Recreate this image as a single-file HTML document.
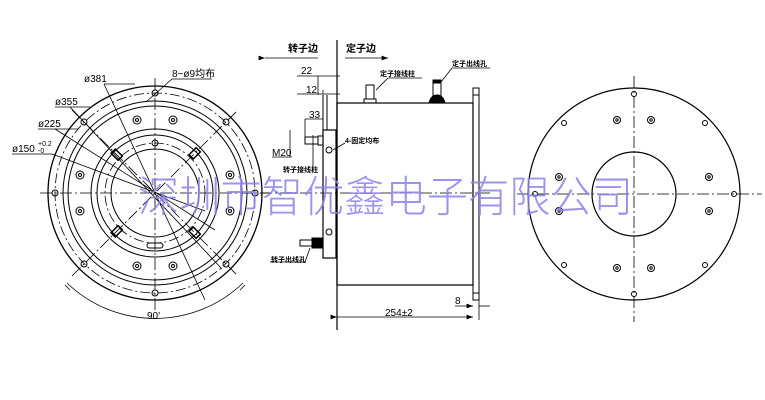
<!DOCTYPE html>
<html><head><meta charset="utf-8"><style>
html,body{margin:0;padding:0;background:#fff;width:765px;height:400px;overflow:hidden}
svg{display:block}
text{font-family:"Liberation Sans","Noto Sans CJK SC",sans-serif;fill:#000}
</style></head><body>
<svg width="765" height="400" viewBox="0 0 765 400" xmlns="http://www.w3.org/2000/svg">
<defs>
<marker id="a" markerWidth="8" markerHeight="6" refX="8" refY="3" orient="auto"><path d="M0,0L8,3L0,6z" fill="#000"/></marker>
</defs>
<g stroke="#000" fill="none" stroke-width="1">
<!-- LEFT VIEW -->
<circle cx="155" cy="193" r="107" stroke-width="1.3"/>
<circle cx="155" cy="193" r="100" stroke-dasharray="10,3,2,3" stroke-width="0.8"/>
<circle cx="155" cy="193" r="92"/>
<circle cx="155" cy="193" r="87"/>
<circle cx="155" cy="193" r="64"/>
<circle cx="155" cy="193" r="58"/>
<circle cx="155" cy="193" r="50" stroke-dasharray="10,3,2,3" stroke-width="0.8"/>
<circle cx="155" cy="193" r="44"/>
<line x1="40" y1="193" x2="272" y2="193" stroke-dasharray="12,3,2,3" stroke-width="0.8"/>
<line x1="155" y1="78" x2="155" y2="310" stroke-dasharray="12,3,2,3" stroke-width="0.8"/>
<line x1="72" y1="276" x2="238" y2="110" stroke-dasharray="12,3,2,3" stroke-width="0.8"/>
<line x1="72" y1="110" x2="238" y2="276" stroke-dasharray="12,3,2,3" stroke-width="0.8"/>
<!-- bolt holes r100 -->
<circle cx="155" cy="93" r="3"/><circle cx="155" cy="293" r="3"/>
<circle cx="55" cy="193" r="3"/><circle cx="255" cy="193" r="3"/>
<circle cx="84" cy="122" r="3"/><circle cx="226" cy="122" r="3"/>
<circle cx="84" cy="264" r="3"/><circle cx="226" cy="264" r="3"/>
<circle cx="155" cy="143" r="3"/>
<!-- counterbored r75 -->
<g>
<circle cx="137" cy="120" r="4"/><circle cx="137" cy="120" r="1.5"/>
<circle cx="173" cy="120" r="4"/><circle cx="173" cy="120" r="1.5"/>
<circle cx="137" cy="266" r="4"/><circle cx="137" cy="266" r="1.5"/>
<circle cx="173" cy="266" r="4"/><circle cx="173" cy="266" r="1.5"/>
<circle cx="80" cy="175" r="4"/><circle cx="80" cy="175" r="1.5"/>
<circle cx="80" cy="211" r="4"/><circle cx="80" cy="211" r="1.5"/>
<circle cx="230" cy="175" r="4"/><circle cx="230" cy="175" r="1.5"/>
<circle cx="230" cy="211" r="4"/><circle cx="230" cy="211" r="1.5"/>
</g>
<!-- slots at 45° -->
<g stroke-width="1.5">
<rect x="-4" y="-3" width="10" height="6" transform="translate(116,154) rotate(45)"/>
<rect x="-4" y="-3" width="10" height="6" transform="translate(194,154) rotate(-45)"/>
<rect x="-4" y="-3" width="10" height="6" transform="translate(116,232) rotate(-45)"/>
<rect x="-4" y="-3" width="10" height="6" transform="translate(194,232) rotate(45)"/>
</g>
<rect x="147" y="243" width="16" height="5" rx="2.5"/>
<!-- leaders -->
<line x1="104" y1="84" x2="135" y2="84" stroke-width="0.8"/>
<line x1="104" y1="84" x2="205" y2="300" stroke-width="0.8"/>
<line x1="55" y1="107" x2="90" y2="107" stroke-width="0.8"/>
<line x1="70" y1="107" x2="222" y2="269" stroke-width="0.8"/>
<line x1="38" y1="129" x2="78" y2="129" stroke-width="0.8"/>
<line x1="55" y1="129" x2="215" y2="230" stroke-width="0.8"/>
<line x1="12" y1="154" x2="52" y2="154" stroke-width="0.8"/>
<line x1="52" y1="154" x2="205" y2="211" stroke-width="0.8"/>
<line x1="146" y1="102" x2="172" y2="79" stroke-width="0.8"/>
<line x1="172" y1="79" x2="212" y2="79" stroke-width="0.8"/>
<path d="M67,283 A127,127 0 0 0 243,283" stroke-width="0.8"/>
<line x1="65" y1="285" x2="70" y2="290" stroke-width="0.8"/>
<line x1="245" y1="285" x2="240" y2="290" stroke-width="0.8"/>

<!-- SIDE VIEW -->
<line x1="337" y1="40" x2="337" y2="330" stroke-width="1.2"/>
<rect x="337" y="103" width="136" height="182" stroke-width="1.2"/>
<rect x="473" y="88" width="6" height="212"/>
<line x1="473" y1="95" x2="479" y2="95"/><line x1="473" y1="293" x2="479" y2="293"/>
<rect x="323" y="130" width="13" height="128" stroke-width="1.2"/>
<line x1="323" y1="95" x2="323" y2="130"/><line x1="327" y1="95" x2="327" y2="130"/>
<circle cx="329" cy="150" r="3"/><circle cx="329" cy="232" r="3"/>
<rect x="305" y="137" width="13" height="7"/><rect x="318" y="136" width="5" height="9"/>
<rect x="300" y="240" width="12" height="6"/><rect x="312" y="238" width="11" height="10" fill="#000"/>
<rect x="366" y="85" width="8" height="14"/><rect x="364" y="99" width="12" height="4"/>
<rect x="433" y="82" width="8" height="15"/><path d="M429,103 Q431,95 437,95 Q443,95 445,103z" fill="#000"/>
<rect x="433" y="80" width="8" height="3" fill="#000"/>
<line x1="260" y1="193" x2="490" y2="193" stroke-dasharray="12,3,2,3" stroke-width="0.8"/>
<!-- dims -->
<line x1="265" y1="58" x2="318" y2="58" marker-start="url(#a)" stroke-width="0.8"/>
<line x1="345" y1="58" x2="388" y2="58" marker-end="url(#a)" stroke-width="0.8"/>
<line x1="297" y1="76" x2="340" y2="76" stroke-width="0.8"/>
<line x1="297" y1="94" x2="340" y2="94" stroke-width="0.8"/>
<line x1="318" y1="76" x2="318" y2="95" stroke-width="0.8"/>
<line x1="323" y1="94" x2="323" y2="90" stroke-width="0.8"/>
<line x1="305" y1="119" x2="323" y2="119" stroke-width="0.8"/>
<line x1="305" y1="119" x2="305" y2="137" stroke-width="0.8"/>
<line x1="290" y1="130" x2="290" y2="157" stroke-width="0.8"/>
<line x1="272" y1="157" x2="292" y2="157" stroke-width="0.8"/>
<line x1="337" y1="317" x2="473" y2="317" marker-start="url(#a)" marker-end="url(#a)" stroke-width="0.8"/>
<line x1="479" y1="300" x2="479" y2="320" stroke-width="0.8"/>
<line x1="455" y1="306" x2="473" y2="306" marker-end="url(#a)" stroke-width="0.8"/>
<line x1="479" y1="306" x2="490" y2="306" stroke-width="0.8"/>
<line x1="376" y1="90" x2="388" y2="78" stroke-width="0.8"/><line x1="388" y1="78" x2="422" y2="78" stroke-width="0.8"/>
<line x1="441" y1="82" x2="452" y2="68" stroke-width="0.8"/><line x1="452" y1="68" x2="490" y2="68" stroke-width="0.8"/>
<line x1="333" y1="150" x2="345" y2="143" stroke-width="0.8"/>
<line x1="313" y1="135" x2="313" y2="172" stroke-width="0.8"/>
<line x1="310" y1="248" x2="305" y2="262" stroke-width="0.8"/><line x1="270" y1="262" x2="305" y2="262" stroke-width="0.8"/>

<!-- RIGHT VIEW -->
<circle cx="634" cy="194" r="106" stroke-width="1.2"/>
<circle cx="634" cy="194" r="42" stroke-width="1.2"/>
<line x1="517" y1="194" x2="762" y2="194" stroke-dasharray="12,3,2,3" stroke-width="0.8"/>
<line x1="634" y1="76" x2="634" y2="322" stroke-dasharray="12,3,2,3" stroke-width="0.8"/>
<circle cx="634" cy="94" r="2.5"/><circle cx="634" cy="294" r="2.5"/>
<circle cx="535" cy="194" r="2.5"/><circle cx="734" cy="194" r="2.5"/>
<circle cx="564" cy="123" r="2.5"/><circle cx="705" cy="123" r="2.5"/>
<circle cx="564" cy="265" r="2.5"/><circle cx="705" cy="265" r="2.5"/>
<circle cx="617" cy="120" r="3.5"/><circle cx="617" cy="120" r="1.2"/>
<circle cx="651" cy="120" r="3.5"/><circle cx="651" cy="120" r="1.2"/>
<circle cx="617" cy="268" r="3.5"/><circle cx="617" cy="268" r="1.2"/>
<circle cx="651" cy="268" r="3.5"/><circle cx="651" cy="268" r="1.2"/>
<circle cx="559" cy="177" r="3.5"/><circle cx="559" cy="177" r="1.2"/>
<circle cx="559" cy="211" r="3.5"/><circle cx="559" cy="211" r="1.2"/>
<circle cx="709" cy="177" r="3.5"/><circle cx="709" cy="177" r="1.2"/>
<circle cx="709" cy="211" r="3.5"/><circle cx="709" cy="211" r="1.2"/>
</g>
<g font-size="10">
<text x="172" y="77">8−ø9均布</text>
<text x="84" y="82">ø381</text>
<text x="55" y="105">ø355</text>
<text x="38" y="127">ø225</text>
<text x="12" y="152">ø150</text><text x="38" y="146" font-size="7">+0.2</text><text x="38" y="153" font-size="7">-0</text>
<text x="147" y="319">90'</text>
<text x="288" y="52" font-weight="bold">转子边</text>
<text x="346" y="52" font-weight="bold">定子边</text>
<text x="301" y="74">22</text>
<text x="306" y="93">12</text>
<text x="309" y="118">33</text>
<text x="272" y="156">M20</text>
<text x="385" y="316">254±2</text>
<text x="455" y="304">8</text>
<text x="380" y="76" font-size="7" font-weight="bold">定子接线柱</text>
<text x="452" y="66" font-size="7" font-weight="bold">定子出线孔</text>
<text x="345" y="143" font-size="7" font-weight="bold">4-固定均布</text>
<text x="283" y="172" font-size="7" font-weight="bold">转子接线柱</text>
<text x="271" y="262" font-size="7" font-weight="bold">转子出线孔</text>
</g>
<text x="138" y="212" font-size="43" style="fill:#8a80ea;fill-opacity:0.85" font-family="'Noto Sans CJK SC',sans-serif" font-weight="300" textLength="495" lengthAdjust="spacingAndGlyphs">深圳市智优鑫电子有限公司</text>
</svg>
</body></html>
